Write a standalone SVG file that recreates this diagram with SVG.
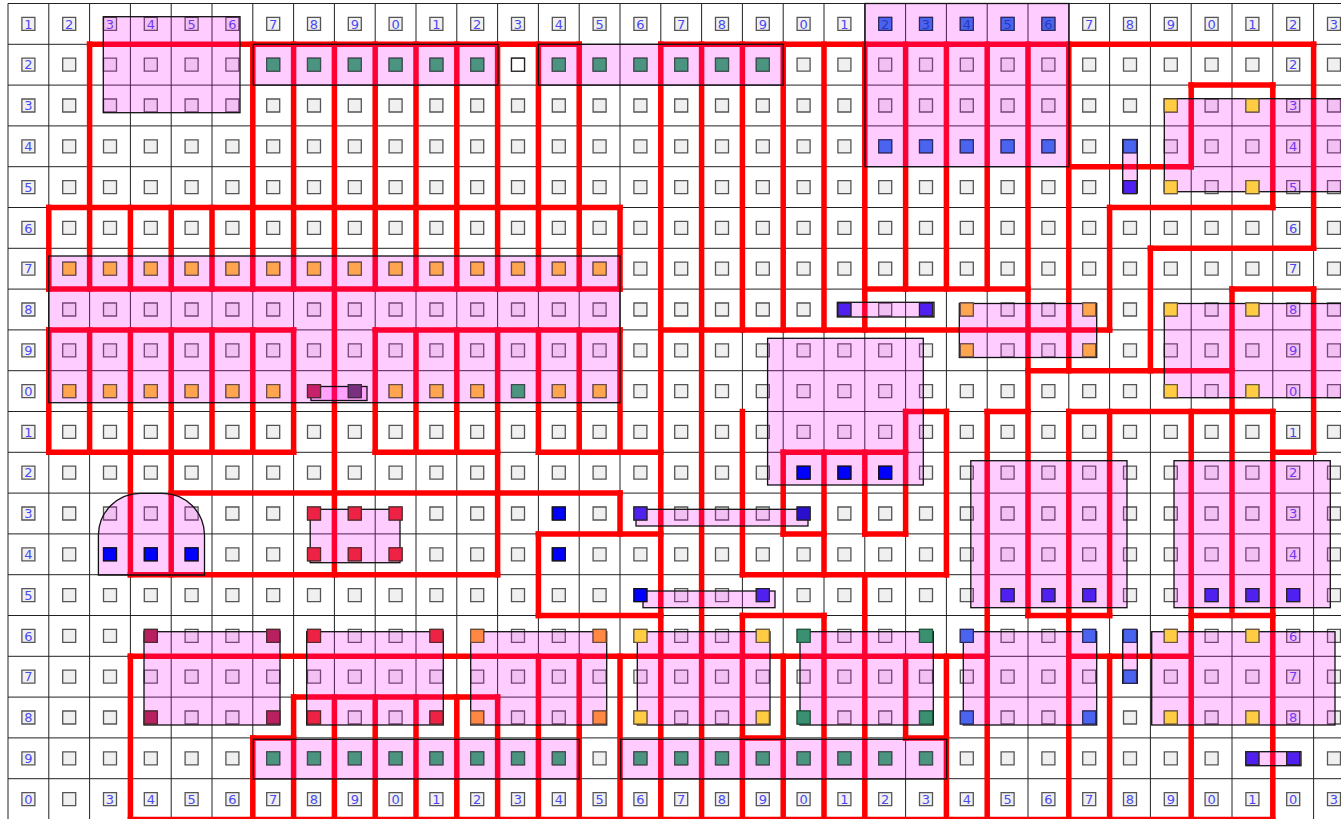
<svg xmlns="http://www.w3.org/2000/svg" width="1341" height="819" viewBox="0 0 1341 819">
<style>
.g{fill:none;stroke:#222;stroke-width:1}
.sq{fill:#f0f0f0;stroke:#555;stroke-width:1.3}
.lb{font-family:"DejaVu Sans",sans-serif;font-size:13px;fill:#4a4af0;text-anchor:middle}
.lb2{font-family:"DejaVu Sans",sans-serif;font-size:13px;fill:#2a38b8;text-anchor:middle}
.wall{fill:none;stroke:#ff0000;stroke-width:5.5;stroke-linecap:square}
.pk{fill:#ff00ff;fill-opacity:0.2;stroke:#111;stroke-width:1.3}
.teal{fill:#4a9480;stroke:#3d4d4d;stroke-width:1.2}
.or{fill:#ffa54f;stroke:#6a4a4a;stroke-width:1.2}
.bl{fill:#4a64f0;stroke:#2a2a60;stroke-width:1.2}
.pb{fill:#0000ff;stroke:#111;stroke-width:1.2}
.pu{fill:#5020f0;stroke:#222;stroke-width:1.2}
.pu2{fill:#2a10cc;stroke:#222;stroke-width:1.2}
.ye{fill:#ffcc44;stroke:#6a5a3a;stroke-width:1.2}
.cr{fill:#ee2244;stroke:#5a2a2a;stroke-width:1.2}
.dm{fill:#b82060;stroke:#4a2a2a;stroke-width:1.2}
.dm2{fill:#c8206a;stroke:#4a2a2a;stroke-width:1.2}
.dp{fill:#7a3080;stroke:#3a2a3a;stroke-width:1.2}
.orr{fill:#ff8844;stroke:#6a4a3a;stroke-width:1.2}
.gr{fill:#3a9070;stroke:#1a5a3a;stroke-width:1.2}
.wh{fill:#ffffff;stroke:#222;stroke-width:1.3}
</style>
<defs>
<path id="sqrow" class="sq" d="M21.9,17.4h13v13h-13zm40.8,0h13v13h-13zm40.8,0h13v13h-13zm40.8,0h13v13h-13zm40.8,0h13v13h-13zm40.8,0h13v13h-13zm40.8,0h13v13h-13zm40.8,0h13v13h-13zm40.8,0h13v13h-13zm40.8,0h13v13h-13zm40.8,0h13v13h-13zm40.8,0h13v13h-13zm40.8,0h13v13h-13zm40.8,0h13v13h-13zm40.8,0h13v13h-13zm40.8,0h13v13h-13zm40.8,0h13v13h-13zm40.8,0h13v13h-13zm40.8,0h13v13h-13zm40.8,0h13v13h-13zm40.8,0h13v13h-13zm40.8,0h13v13h-13zm40.8,0h13v13h-13zm40.8,0h13v13h-13zm40.8,0h13v13h-13zm40.8,0h13v13h-13zm40.8,0h13v13h-13zm40.8,0h13v13h-13zm40.8,0h13v13h-13zm40.8,0h13v13h-13zm40.8,0h13v13h-13zm40.8,0h13v13h-13zm40.8,0h13v13h-13z"/>
<rect id="q" width="13" height="13"/>
</defs>
<rect width="1341" height="819" fill="#ffffff"/>
<g id="grid">
<path class="g" d="M8,3.5V819.5M48.8,3.5V819.5M89.6,3.5V819.5M130.4,3.5V819.5M171.2,3.5V819.5M212,3.5V819.5M252.8,3.5V819.5M293.6,3.5V819.5M334.4,3.5V819.5M375.2,3.5V819.5M416,3.5V819.5M456.8,3.5V819.5M497.6,3.5V819.5M538.4,3.5V819.5M579.2,3.5V819.5M620,3.5V819.5M660.8,3.5V819.5M701.6,3.5V819.5M742.4,3.5V819.5M783.2,3.5V819.5M824,3.5V819.5M864.8,3.5V819.5M905.6,3.5V819.5M946.4,3.5V819.5M987.2,3.5V819.5M1028,3.5V819.5M1068.8,3.5V819.5M1109.6,3.5V819.5M1150.4,3.5V819.5M1191.2,3.5V819.5M1232,3.5V819.5M1272.8,3.5V819.5M1313.6,3.5V819.5M8,3.5H1341M8,44.3H1341M8,85.1H1341M8,125.9H1341M8,166.7H1341M8,207.5H1341M8,248.3H1341M8,289.1H1341M8,329.9H1341M8,370.7H1341M8,411.5H1341M8,452.3H1341M8,493.1H1341M8,533.9H1341M8,574.7H1341M8,615.5H1341M8,656.3H1341M8,697.1H1341M8,737.9H1341M8,778.7H1341"/>
</g>
<g id="cells">
<use href="#sqrow"/>
<use href="#sqrow" y="40.8"/><use href="#sqrow" y="81.6"/><use href="#sqrow" y="122.4"/><use href="#sqrow" y="163.2"/><use href="#sqrow" y="204"/><use href="#sqrow" y="244.8"/><use href="#sqrow" y="285.6"/><use href="#sqrow" y="326.4"/><use href="#sqrow" y="367.2"/><use href="#sqrow" y="408"/><use href="#sqrow" y="448.8"/><use href="#sqrow" y="489.6"/><use href="#sqrow" y="530.4"/><use href="#sqrow" y="571.2"/><use href="#sqrow" y="612"/><use href="#sqrow" y="652.8"/><use href="#sqrow" y="693.6"/><use href="#sqrow" y="734.4"/><use href="#sqrow" y="775.2"/>
<use href="#q" x="511.5" y="58.2" class="wh"/>
</g>
<g id="labels">
<text class="lb" x="28.4" y="28.5">1</text><text class="lb" x="69.2" y="28.5">2</text><text class="lb" x="110" y="28.5">3</text><text class="lb" x="150.8" y="28.5">4</text><text class="lb" x="191.6" y="28.5">5</text><text class="lb" x="232.4" y="28.5">6</text><text class="lb" x="273.2" y="28.5">7</text><text class="lb" x="314" y="28.5">8</text><text class="lb" x="354.8" y="28.5">9</text><text class="lb" x="395.6" y="28.5">0</text><text class="lb" x="436.4" y="28.5">1</text><text class="lb" x="477.2" y="28.5">2</text><text class="lb" x="518" y="28.5">3</text><text class="lb" x="558.8" y="28.5">4</text><text class="lb" x="599.6" y="28.5">5</text><text class="lb" x="640.4" y="28.5">6</text><text class="lb" x="681.2" y="28.5">7</text><text class="lb" x="722" y="28.5">8</text><text class="lb" x="762.8" y="28.5">9</text><text class="lb" x="803.6" y="28.5">0</text><text class="lb" x="844.4" y="28.5">1</text><text class="lb" x="1089.2" y="28.5">7</text><text class="lb" x="1130" y="28.5">8</text><text class="lb" x="1170.8" y="28.5">9</text><text class="lb" x="1211.6" y="28.5">0</text><text class="lb" x="1252.4" y="28.5">1</text><text class="lb" x="1293.2" y="28.5">2</text><text class="lb" x="1334" y="28.5">3</text>
<text class="lb" x="28.4" y="69.3">2</text><text class="lb" x="28.4" y="110.1">3</text><text class="lb" x="28.4" y="150.9">4</text><text class="lb" x="28.4" y="191.7">5</text><text class="lb" x="28.4" y="232.5">6</text><text class="lb" x="28.4" y="273.3">7</text><text class="lb" x="28.4" y="314.1">8</text><text class="lb" x="28.4" y="354.9">9</text><text class="lb" x="28.4" y="395.7">0</text><text class="lb" x="28.4" y="436.5">1</text><text class="lb" x="28.4" y="477.3">2</text><text class="lb" x="28.4" y="518.1">3</text><text class="lb" x="28.4" y="558.9">4</text><text class="lb" x="28.4" y="599.7">5</text><text class="lb" x="28.4" y="640.5">6</text><text class="lb" x="28.4" y="681.3">7</text><text class="lb" x="28.4" y="722.1">8</text><text class="lb" x="28.4" y="762.9">9</text><text class="lb" x="28.4" y="803.7">0</text>
<text class="lb" x="1293.2" y="69.3">2</text><text class="lb" x="1293.2" y="110.1">3</text><text class="lb" x="1293.2" y="150.9">4</text><text class="lb" x="1293.2" y="191.7">5</text><text class="lb" x="1293.2" y="232.5">6</text><text class="lb" x="1293.2" y="273.3">7</text><text class="lb" x="1293.2" y="314.1">8</text><text class="lb" x="1293.2" y="354.9">9</text><text class="lb" x="1293.2" y="395.7">0</text><text class="lb" x="1293.2" y="436.5">1</text><text class="lb" x="1293.2" y="477.3">2</text><text class="lb" x="1293.2" y="518.1">3</text><text class="lb" x="1293.2" y="558.9">4</text><text class="lb" x="1293.2" y="640.5">6</text><text class="lb" x="1293.2" y="681.3">7</text><text class="lb" x="1293.2" y="722.1">8</text>
<text class="lb" x="110" y="803.7">3</text><text class="lb" x="150.8" y="803.7">4</text><text class="lb" x="191.6" y="803.7">5</text><text class="lb" x="232.4" y="803.7">6</text><text class="lb" x="273.2" y="803.7">7</text><text class="lb" x="314" y="803.7">8</text><text class="lb" x="354.8" y="803.7">9</text><text class="lb" x="395.6" y="803.7">0</text><text class="lb" x="436.4" y="803.7">1</text><text class="lb" x="477.2" y="803.7">2</text><text class="lb" x="518" y="803.7">3</text><text class="lb" x="558.8" y="803.7">4</text><text class="lb" x="599.6" y="803.7">5</text><text class="lb" x="640.4" y="803.7">6</text><text class="lb" x="681.2" y="803.7">7</text><text class="lb" x="722" y="803.7">8</text><text class="lb" x="762.8" y="803.7">9</text><text class="lb" x="803.6" y="803.7">0</text><text class="lb" x="844.4" y="803.7">1</text><text class="lb" x="885.2" y="803.7">2</text><text class="lb" x="926" y="803.7">3</text><text class="lb" x="966.8" y="803.7">4</text><text class="lb" x="1007.6" y="803.7">5</text><text class="lb" x="1048.4" y="803.7">6</text><text class="lb" x="1089.2" y="803.7">7</text><text class="lb" x="1130" y="803.7">8</text><text class="lb" x="1170.8" y="803.7">9</text><text class="lb" x="1211.6" y="803.7">0</text><text class="lb" x="1252.4" y="803.7">1</text><text class="lb" x="1293.2" y="803.7">0</text><text class="lb" x="1334" y="803.7">3</text>
</g>
<g id="connectors">
<path class="wall" d="M89.6,44.3H579.2M660.8,44.3H1313.6M1191.2,85.1H1272.8M1068.8,166.7H1191.2M48.8,207.5H620M1109.6,207.5H1272.8M1150.4,248.3H1313.6M48.8,289.1H620M864.8,289.1H1028M1232,289.1H1313.6M48.8,329.9H293.6M375.2,329.9H620M660.8,329.9H1109.6M1028,370.7H1232M905.6,411.5H946.4M987.2,411.5H1028M1068.8,411.5H1272.8M48.8,452.3H293.6M375.2,452.3H497.6M538.4,452.3H660.8M783.2,452.3H905.6M1272.8,452.3H1313.6M171.2,493.1H620M538.4,533.9H660.8M783.2,533.9H824M864.8,533.9H905.6M130.4,574.7H497.6M742.4,574.7H946.4M538.4,615.5H660.8M742.4,615.5H824M1028,615.5H1109.6M1191.2,615.5H1272.8M130.4,656.3H987.2M1068.8,656.3H1191.2M293.6,697.1H497.6M252.8,737.9H293.6M742.4,737.9H783.2M905.6,737.9H946.4M130.4,819.5H1272.8"/>
<path class="wall" d="M48.8,207.5V289.1M48.8,329.9V452.3M89.6,44.3V289.1M89.6,329.9V452.3M130.4,207.5V289.1M130.4,329.9V574.7M130.4,656.3V819.5M171.2,207.5V289.1M171.2,329.9V574.7M212,207.5V289.1M212,329.9V452.3M252.8,44.3V289.1M252.8,329.9V452.3M252.8,737.9V819.5M293.6,44.3V289.1M293.6,329.9V452.3M293.6,697.1V819.5M334.4,44.3V574.7M334.4,697.1V819.5M375.2,44.3V289.1M375.2,329.9V452.3M375.2,697.1V819.5M416,44.3V289.1M416,329.9V452.3M416,697.1V819.5M456.8,44.3V289.1M456.8,329.9V452.3M456.8,697.1V819.5M497.6,44.3V289.1M497.6,329.9V574.7M497.6,697.1V819.5M538.4,44.3V289.1M538.4,329.9V452.3M538.4,533.9V615.5M538.4,656.3V819.5M579.2,44.3V289.1M579.2,329.9V452.3M579.2,656.3V819.5M620,207.5V289.1M620,329.9V452.3M620,493.1V533.9M620,656.3V819.5M660.8,44.3V819.5M701.6,44.3V819.5M742.4,44.3V329.9M742.4,411.5V574.7M742.4,615.5V819.5M783.2,44.3V329.9M783.2,452.3V533.9M783.2,656.3V819.5M824,44.3V329.9M824,452.3V574.7M824,615.5V819.5M864.8,44.3V329.9M864.8,452.3V533.9M864.8,574.7V819.5M905.6,44.3V289.1M905.6,411.5V533.9M905.6,656.3V737.9M946.4,44.3V289.1M946.4,411.5V574.7M946.4,656.3V819.5M987.2,44.3V289.1M987.2,411.5V819.5M1028,44.3V615.5M1068.8,44.3V370.7M1068.8,411.5V819.5M1109.6,207.5V329.9M1109.6,411.5V615.5M1109.6,656.3V819.5M1150.4,248.3V370.7M1191.2,85.1V166.7M1191.2,411.5V819.5M1232,289.1V615.5M1272.8,85.1V207.5M1272.8,411.5V819.5M1313.6,44.3V248.3M1313.6,289.1V452.3"/>
</g>
<g id="regions">
<rect id="p1" class="pk" x="103.3" y="16.7" width="136.7" height="96"/>
<rect id="p2" class="pk" x="253.3" y="44.3" width="244.7" height="40.8"/>
<rect id="p3" class="pk" x="538.4" y="44.3" width="244.8" height="40.8"/>
<rect id="p4" class="pk" x="865" y="3.5" width="204" height="163.2"/>
<rect id="p5" class="pk" x="1164.3" y="98.7" width="180" height="93"/>
<rect id="p6" class="pk" x="1122.7" y="139.5" width="14.6" height="53.5"/>
<rect id="p7" class="pk" x="48.8" y="256" width="571.2" height="146.7"/>
<rect id="p8" class="pk" x="311" y="386.5" width="56" height="14"/>
<rect id="p9" class="pk" x="767.6" y="338.3" width="155.7" height="146.7"/>
<rect id="p10" class="pk" x="636" y="509.3" width="172" height="16.7"/>
<rect id="p11" class="pk" x="643" y="591" width="132" height="16.7"/>
<rect id="p12" class="pk" x="970.8" y="460.7" width="156.2" height="147"/>
<rect id="p13" class="pk" x="1174" y="460.7" width="156.3" height="147"/>
<rect id="p14" class="pk" x="959.3" y="303.5" width="137.4" height="54"/>
<rect id="p15" class="pk" x="837.3" y="302.3" width="96.7" height="14.7"/>
<rect id="p16" class="pk" x="1164.3" y="303.5" width="180" height="94.2"/>
<path id="p17" class="pk" d="M98.4,575V535A42,42 0 0 1 140.4,493.3H162.5A42,42 0 0 1 204.5,535V575Z"/>
<rect id="p18" class="pk" x="310.2" y="509.3" width="89.8" height="53.4"/>
<rect id="p19" class="pk" x="144" y="631.7" width="136" height="93.3"/>
<rect id="p20" class="pk" x="306.7" y="631.7" width="136.6" height="93.3"/>
<rect id="p21" class="pk" x="470.7" y="631.7" width="136" height="93.3"/>
<rect id="p22" class="pk" x="637.3" y="631.7" width="132.7" height="93.3"/>
<rect id="p23" class="pk" x="800" y="631.7" width="133.3" height="93.3"/>
<rect id="p24" class="pk" x="963.3" y="631.7" width="133.4" height="93.3"/>
<rect id="p25" class="pk" x="1122.7" y="630" width="14.6" height="53.3"/>
<rect id="p26" class="pk" x="1151.7" y="631.7" width="183.3" height="93.3"/>
<rect id="p27" class="pk" x="253.3" y="739.3" width="326" height="39.7"/>
<rect id="p28" class="pk" x="620.7" y="739.3" width="326" height="39.7"/>
<rect id="p29" class="pk" x="1246" y="751.7" width="55" height="14"/>
</g>
<g id="marks">
<use href="#q" class="teal" x="266.7" y="58.2"/><use href="#q" class="teal" x="307.5" y="58.2"/><use href="#q" class="teal" x="348.3" y="58.2"/><use href="#q" class="teal" x="389.1" y="58.2"/><use href="#q" class="teal" x="429.9" y="58.2"/><use href="#q" class="teal" x="470.7" y="58.2"/><use href="#q" class="teal" x="552.3" y="58.2"/><use href="#q" class="teal" x="593.1" y="58.2"/><use href="#q" class="teal" x="633.9" y="58.2"/><use href="#q" class="teal" x="674.7" y="58.2"/><use href="#q" class="teal" x="715.5" y="58.2"/><use href="#q" class="teal" x="756.3" y="58.2"/>
<use href="#q" class="teal" x="511.5" y="384.6"/>
<use href="#q" class="teal" x="266.7" y="751.8"/><use href="#q" class="teal" x="307.5" y="751.8"/><use href="#q" class="teal" x="348.3" y="751.8"/><use href="#q" class="teal" x="389.1" y="751.8"/><use href="#q" class="teal" x="429.9" y="751.8"/><use href="#q" class="teal" x="470.7" y="751.8"/><use href="#q" class="teal" x="511.5" y="751.8"/><use href="#q" class="teal" x="552.3" y="751.8"/><use href="#q" class="teal" x="633.9" y="751.8"/><use href="#q" class="teal" x="674.7" y="751.8"/><use href="#q" class="teal" x="715.5" y="751.8"/><use href="#q" class="teal" x="756.3" y="751.8"/><use href="#q" class="teal" x="797.1" y="751.8"/><use href="#q" class="teal" x="837.9" y="751.8"/><use href="#q" class="teal" x="878.7" y="751.8"/><use href="#q" class="teal" x="919.5" y="751.8"/>
<use href="#q" class="or" x="62.7" y="262.2"/><use href="#q" class="or" x="103.5" y="262.2"/><use href="#q" class="or" x="144.3" y="262.2"/><use href="#q" class="or" x="185.1" y="262.2"/><use href="#q" class="or" x="225.9" y="262.2"/><use href="#q" class="or" x="266.7" y="262.2"/><use href="#q" class="or" x="307.5" y="262.2"/><use href="#q" class="or" x="348.3" y="262.2"/><use href="#q" class="or" x="389.1" y="262.2"/><use href="#q" class="or" x="429.9" y="262.2"/><use href="#q" class="or" x="470.7" y="262.2"/><use href="#q" class="or" x="511.5" y="262.2"/><use href="#q" class="or" x="552.3" y="262.2"/><use href="#q" class="or" x="593.1" y="262.2"/>
<use href="#q" class="or" x="62.7" y="384.6"/><use href="#q" class="or" x="103.5" y="384.6"/><use href="#q" class="or" x="144.3" y="384.6"/><use href="#q" class="or" x="185.1" y="384.6"/><use href="#q" class="or" x="225.9" y="384.6"/><use href="#q" class="or" x="266.7" y="384.6"/><use href="#q" class="or" x="389.1" y="384.6"/><use href="#q" class="or" x="429.9" y="384.6"/><use href="#q" class="or" x="470.7" y="384.6"/><use href="#q" class="or" x="552.3" y="384.6"/><use href="#q" class="or" x="593.1" y="384.6"/>
<use href="#q" class="dm2" x="307.5" y="384.6"/><use href="#q" class="dp" x="348.3" y="384.6"/>
<use href="#q" class="or" x="960.3" y="303"/><use href="#q" class="or" x="1082.7" y="303"/><use href="#q" class="or" x="960.3" y="343.8"/><use href="#q" class="or" x="1082.7" y="343.8"/>
<use href="#q" class="bl" x="878.7" y="17.4"/><use href="#q" class="bl" x="919.5" y="17.4"/><use href="#q" class="bl" x="960.3" y="17.4"/><use href="#q" class="bl" x="1001.1" y="17.4"/><use href="#q" class="bl" x="1041.9" y="17.4"/>
<use href="#q" class="bl" x="878.7" y="139.8"/><use href="#q" class="bl" x="919.5" y="139.8"/><use href="#q" class="bl" x="960.3" y="139.8"/><use href="#q" class="bl" x="1001.1" y="139.8"/><use href="#q" class="bl" x="1041.9" y="139.8"/>
<use href="#q" class="bl" x="1123.5" y="139.8"/><use href="#q" class="pu" x="1123.5" y="180.6"/>
<use href="#q" class="bl" x="960.3" y="629.4"/><use href="#q" class="bl" x="1082.7" y="629.4"/><use href="#q" class="bl" x="960.3" y="711"/><use href="#q" class="bl" x="1082.7" y="711"/>
<use href="#q" class="bl" x="1123.5" y="629.4"/><use href="#q" class="bl" x="1123.5" y="670.2"/>
<use href="#q" class="pb" x="797.1" y="466.2"/><use href="#q" class="pb" x="837.9" y="466.2"/><use href="#q" class="pb" x="878.7" y="466.2"/>
<use href="#q" class="pb" x="103.5" y="547.8"/><use href="#q" class="pb" x="144.3" y="547.8"/><use href="#q" class="pb" x="185.1" y="547.8"/>
<use href="#q" class="pb" x="552.3" y="507"/><use href="#q" class="pb" x="552.3" y="547.8"/><use href="#q" class="pb" x="633.9" y="588.6"/>
<use href="#q" class="pu" x="837.9" y="303"/><use href="#q" class="pu" x="919.5" y="303"/>
<use href="#q" class="pu" x="633.9" y="507"/><use href="#q" class="pu2" x="797.1" y="507"/><use href="#q" class="pu" x="756.3" y="588.6"/>
<use href="#q" class="pu" x="1001.1" y="588.6"/><use href="#q" class="pu" x="1041.9" y="588.6"/><use href="#q" class="pu" x="1082.7" y="588.6"/><use href="#q" class="pu" x="1205.1" y="588.6"/><use href="#q" class="pu" x="1245.9" y="588.6"/><use href="#q" class="pu" x="1286.7" y="588.6"/>
<use href="#q" class="pu" x="1245.9" y="751.8"/><use href="#q" class="pu" x="1286.7" y="751.8"/>
<use href="#q" class="ye" x="1164.3" y="99"/><use href="#q" class="ye" x="1245.9" y="99"/><use href="#q" class="ye" x="1164.3" y="180.6"/><use href="#q" class="ye" x="1245.9" y="180.6"/>
<use href="#q" class="ye" x="1164.3" y="303"/><use href="#q" class="ye" x="1245.9" y="303"/><use href="#q" class="ye" x="1164.3" y="384.6"/><use href="#q" class="ye" x="1245.9" y="384.6"/>
<use href="#q" class="ye" x="633.9" y="629.4"/><use href="#q" class="ye" x="756.3" y="629.4"/><use href="#q" class="ye" x="633.9" y="711"/><use href="#q" class="ye" x="756.3" y="711"/>
<use href="#q" class="ye" x="1164.3" y="629.4"/><use href="#q" class="ye" x="1245.9" y="629.4"/><use href="#q" class="ye" x="1164.3" y="711"/><use href="#q" class="ye" x="1245.9" y="711"/>
<use href="#q" class="cr" x="307.5" y="507"/><use href="#q" class="cr" x="348.3" y="507"/><use href="#q" class="cr" x="389.1" y="507"/><use href="#q" class="cr" x="307.5" y="547.8"/><use href="#q" class="cr" x="348.3" y="547.8"/><use href="#q" class="cr" x="389.1" y="547.8"/>
<use href="#q" class="cr" x="307.5" y="629.4"/><use href="#q" class="cr" x="429.9" y="629.4"/><use href="#q" class="cr" x="307.5" y="711"/><use href="#q" class="cr" x="429.9" y="711"/>
<use href="#q" class="dm" x="144.3" y="629.4"/><use href="#q" class="dm" x="266.7" y="629.4"/><use href="#q" class="dm" x="144.3" y="711"/><use href="#q" class="dm" x="266.7" y="711"/>
<use href="#q" class="orr" x="470.7" y="629.4"/><use href="#q" class="orr" x="593.1" y="629.4"/><use href="#q" class="orr" x="470.7" y="711"/><use href="#q" class="orr" x="593.1" y="711"/>
<use href="#q" class="gr" x="797.1" y="629.4"/><use href="#q" class="gr" x="919.5" y="629.4"/><use href="#q" class="gr" x="797.1" y="711"/><use href="#q" class="gr" x="919.5" y="711"/>
<text class="lb2" x="885.2" y="28.5">2</text><text class="lb2" x="926" y="28.5">3</text><text class="lb2" x="966.8" y="28.5">4</text><text class="lb2" x="1007.6" y="28.5">5</text><text class="lb2" x="1048.4" y="28.5">6</text>
</g>
</svg>
